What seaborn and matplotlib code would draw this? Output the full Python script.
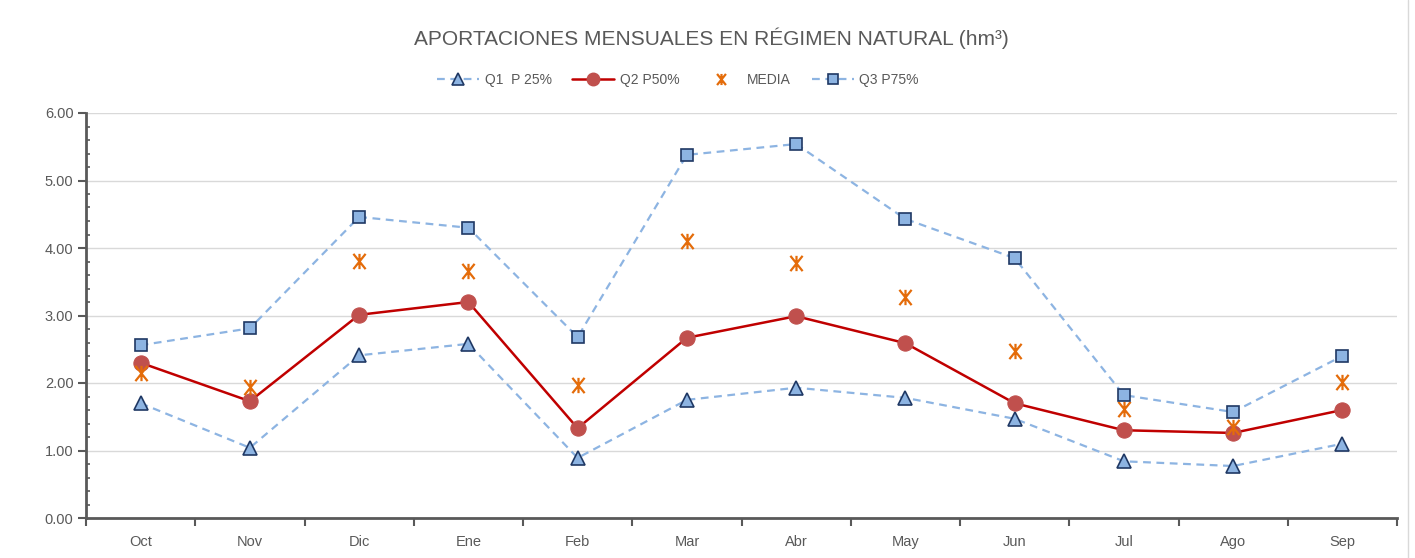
import matplotlib
matplotlib.use("Agg")
import matplotlib.pyplot as plt
import seaborn as sns
import pandas as pd
import numpy as np
from matplotlib.ticker import MultipleLocator, FixedLocator
from matplotlib.lines import Line2D
from matplotlib.path import Path

months = ["Oct", "Nov", "Dic", "Ene", "Feb", "Mar", "Abr", "May", "Jun", "Jul", "Ago", "Sep"]
q1 = [1.70, 1.04, 2.41, 2.58, 0.89, 1.75, 1.93, 1.78, 1.47, 0.84, 0.77, 1.10]
q2 = [2.30, 1.73, 3.01, 3.20, 1.33, 2.67, 2.99, 2.59, 1.70, 1.30, 1.26, 1.60]
media = [2.15, 1.94, 3.81, 3.66, 1.97, 4.10, 3.78, 3.27, 2.47, 1.61, 1.35, 2.01]
q3 = [2.56, 2.81, 4.46, 4.30, 2.68, 5.38, 5.54, 4.43, 3.85, 1.82, 1.57, 2.40]

sns.set_theme(style="white")
plt.rcParams['font.family'] = ['Liberation Sans Narrow', 'Liberation Sans', 'DejaVu Sans']

fig = plt.figure(figsize=(14.15, 5.58), dpi=100)
ax = fig.add_axes([86/1415, 1 - 518/558, (1397 - 86)/1415, (518 - 113)/558])

x = np.arange(len(months))
df = pd.DataFrame({"x": x, "q1": q1, "q2": q2, "media": media, "q3": q3})

light = "#8DB4E2"
fill = "#8DB4E2"
edge = "#1F3864"
dash = (0, (3.5, 2.5))

star_x = Path([(-0.8, -1), (0.8, 1), (-0.8, 1), (0.8, -1), (0, -1), (0, 1)],
              [Path.MOVETO, Path.LINETO, Path.MOVETO, Path.LINETO, Path.MOVETO, Path.LINETO])

sns.lineplot(data=df, x="x", y="q1", ax=ax, color=light, linestyle=dash, lw=1.6,
             marker="^", markersize=10, markerfacecolor=fill, markeredgecolor=edge, markeredgewidth=1.2,
             label="Q1  P 25%")
sns.lineplot(data=df, x="x", y="q2", ax=ax, color="#C00000", lw=1.8,
             marker="o", markersize=11, markerfacecolor="#C0504D", markeredgecolor="#C0504D",
             label="Q2 P50%")
sns.lineplot(data=df, x="x", y="media", ax=ax, color="#E46C0A", linestyle="none",
             marker=star_x, markersize=11, markeredgecolor="#E46C0A", markeredgewidth=1.6,
             label="MEDIA")
sns.lineplot(data=df, x="x", y="q3", ax=ax, color=light, linestyle=dash, lw=1.6,
             marker="s", markersize=8.5, markerfacecolor=fill, markeredgecolor=edge, markeredgewidth=1.2,
             label="Q3 P75%")

ax.set_xlim(-0.5, 11.5)
ax.set_ylim(0, 6)
ax.set_xlabel("")
ax.set_ylabel("")

ax.yaxis.set_major_locator(MultipleLocator(1))
ax.yaxis.set_minor_locator(MultipleLocator(0.2))
ax.yaxis.set_major_formatter(matplotlib.ticker.FormatStrFormatter("%.2f"))
ax.grid(axis="y", which="major", color="#D9D9D9", lw=1)
ax.set_axisbelow(True)

ax.set_xticks(x)
ax.set_xticklabels(months)
ax.xaxis.set_minor_locator(FixedLocator(np.arange(-0.5, 12, 1)))
ax.tick_params(axis="x", which="major", length=0, pad=12, labelsize=10.5, labelcolor="#595959")
ax.tick_params(axis="x", which="minor", bottom=True, length=6, width=1.5, color="#595959", direction="out")
ax.tick_params(axis="y", which="major", left=True, length=6, width=1.5, color="#595959", direction="out",
               labelsize=10.5, labelcolor="#595959", pad=3)
ax.tick_params(axis="y", which="minor", left=True, length=3, width=1.2, color="#595959", direction="in")

for s in ["top", "right"]:
    ax.spines[s].set_visible(False)
for s in ["left", "bottom"]:
    ax.spines[s].set_color("#595959")
    ax.spines[s].set_linewidth(2)

ax.legend_.remove()
handles = [
    Line2D([], [], color=light, linestyle=dash, lw=1.6, marker="^", markersize=8,
           markerfacecolor=fill, markeredgecolor=edge, markeredgewidth=1.2),
    Line2D([], [], color="#C00000", lw=1.8, marker="o", markersize=9,
           markerfacecolor="#C0504D", markeredgecolor="#C0504D"),
    Line2D([], [], color="#E46C0A", linestyle="none", marker=star_x, markersize=8,
           markeredgecolor="#E46C0A", markeredgewidth=1.6),
    Line2D([], [], color=light, linestyle=dash, lw=1.6, marker="s", markersize=7,
           markerfacecolor=fill, markeredgecolor=edge, markeredgewidth=1.2),
]
fig.legend(handles, ["Q1  P 25%", "Q2 P50%", "MEDIA", "Q3 P75%"], loc="center",
           bbox_to_anchor=(678/1415, 1 - 80/558), ncol=4, frameon=False, fontsize=10,
           labelcolor="#595959", handlelength=3.0, columnspacing=1.5, handletextpad=0.4)

fig.text(711/1415, 1 - 38/558, "APORTACIONES MENSUALES EN RÉGIMEN NATURAL (hm³)",
         ha="center", va="center", fontsize=15, color="#595959")

fig.add_artist(Line2D([1408/1415, 1408/1415], [0, 1], transform=fig.transFigure, color="#D9D9D9", lw=1))

fig.savefig("out.png", dpi=100, facecolor="white")
